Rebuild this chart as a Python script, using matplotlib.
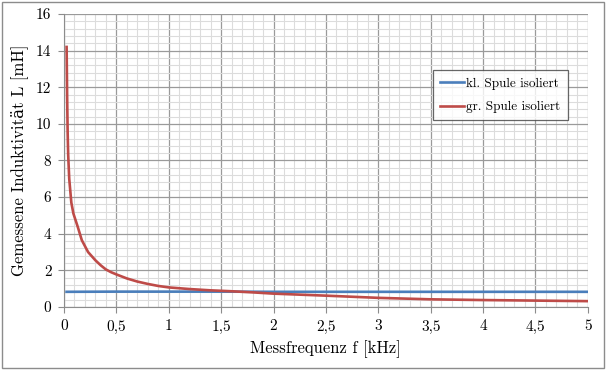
"""Gemessene Induktivitaet der Spulen ueber der Messfrequenz."""

import matplotlib.pyplot as plt
from matplotlib.patches import Rectangle
from matplotlib.ticker import FuncFormatter, MultipleLocator

# Messfrequenz in kHz
freq_small = [0.025, 0.5, 1.0, 1.5, 2.0, 2.5, 3.0, 3.5, 4.0, 4.5, 5.0]
induct_small = [0.83, 0.84, 0.84, 0.84, 0.83, 0.83, 0.83, 0.83, 0.83, 0.83, 0.83]

freq_large = [0.025, 0.03, 0.035, 0.04, 0.05, 0.07, 0.09, 0.13, 0.17, 0.23, 0.3,
              0.35, 0.4, 0.45, 0.5, 0.6, 0.7, 0.8, 0.9, 1.0, 1.2, 1.4, 1.6,
              1.8, 2.0, 2.5, 3.0, 3.5, 4.0, 4.5, 5.0]
induct_large = [14.2, 11.5, 9.5, 8.3, 7.0, 5.7, 5.1, 4.4, 3.65, 3.0, 2.55,
                2.28, 2.05, 1.9, 1.78, 1.56, 1.39, 1.26, 1.15, 1.07, 0.98, 0.91, 0.86,
                0.80, 0.73, 0.62, 0.50, 0.42, 0.38, 0.35, 0.32]

labels = ["kl. Spule isoliert", "gr. Spule isoliert"]
colors = ["#4a7ebb", "#be4b48"]

plt.rcParams["font.family"] = ["cmr10", "DejaVu Serif"]
plt.rcParams["axes.unicode_minus"] = False
plt.rcParams["axes.formatter.use_mathtext"] = False


def comma_fmt(value, _pos):
    text = f"{value:g}"
    return text.replace(".", ",")


fig = plt.figure(figsize=(6.06, 3.72), dpi=100)
fig.patches.append(Rectangle((0.004, 0.012), 0.992, 0.982, transform=fig.transFigure,
                             fill=False, edgecolor="#8c8c8c", linewidth=1.0))
ax = fig.add_axes([0.1056, 0.1747, 0.8644, 0.7877])

ax.plot(freq_small, induct_small, color=colors[0], linewidth=1.9, label=labels[0])
ax.plot(freq_large, induct_large, color=colors[1], linewidth=1.9, label=labels[1])

ax.set_xlim(0, 5)
ax.set_ylim(0, 16)
ax.xaxis.set_major_locator(MultipleLocator(0.5))
ax.xaxis.set_minor_locator(MultipleLocator(0.1))
ax.yaxis.set_major_locator(MultipleLocator(2))
ax.yaxis.set_minor_locator(MultipleLocator(0.4))
ax.xaxis.set_major_formatter(FuncFormatter(comma_fmt))

ax.grid(which="major", color="#9a9a9a", linewidth=0.9)
ax.grid(which="minor", color="#dcdcdc", linewidth=0.8)
ax.set_axisbelow(True)

for side in ("top", "right"):
    ax.spines[side].set_visible(False)
for side in ("left", "bottom"):
    ax.spines[side].set_color("#8c8c8c")

ax.tick_params(which="major", direction="out", length=4, color="#8c8c8c",
               labelsize=11, pad=5)
ax.tick_params(which="minor", length=0)

ax.set_xlabel("Messfrequenz f [kHz]", fontsize=12, labelpad=5)
ax.set_ylabel("Gemessene Induktivität L [mH]", fontsize=12, labelpad=6)

leg = ax.legend(loc="upper left", bbox_to_anchor=(0.704, 0.808), fontsize=9.5,
                frameon=True, fancybox=False, handlelength=1.8, handletextpad=0.2,
                borderpad=0.55, labelspacing=0.85, borderaxespad=0)
leg.get_frame().set_edgecolor("#404040")
leg.get_frame().set_linewidth(0.9)

fig.savefig("out.png", dpi=100)
